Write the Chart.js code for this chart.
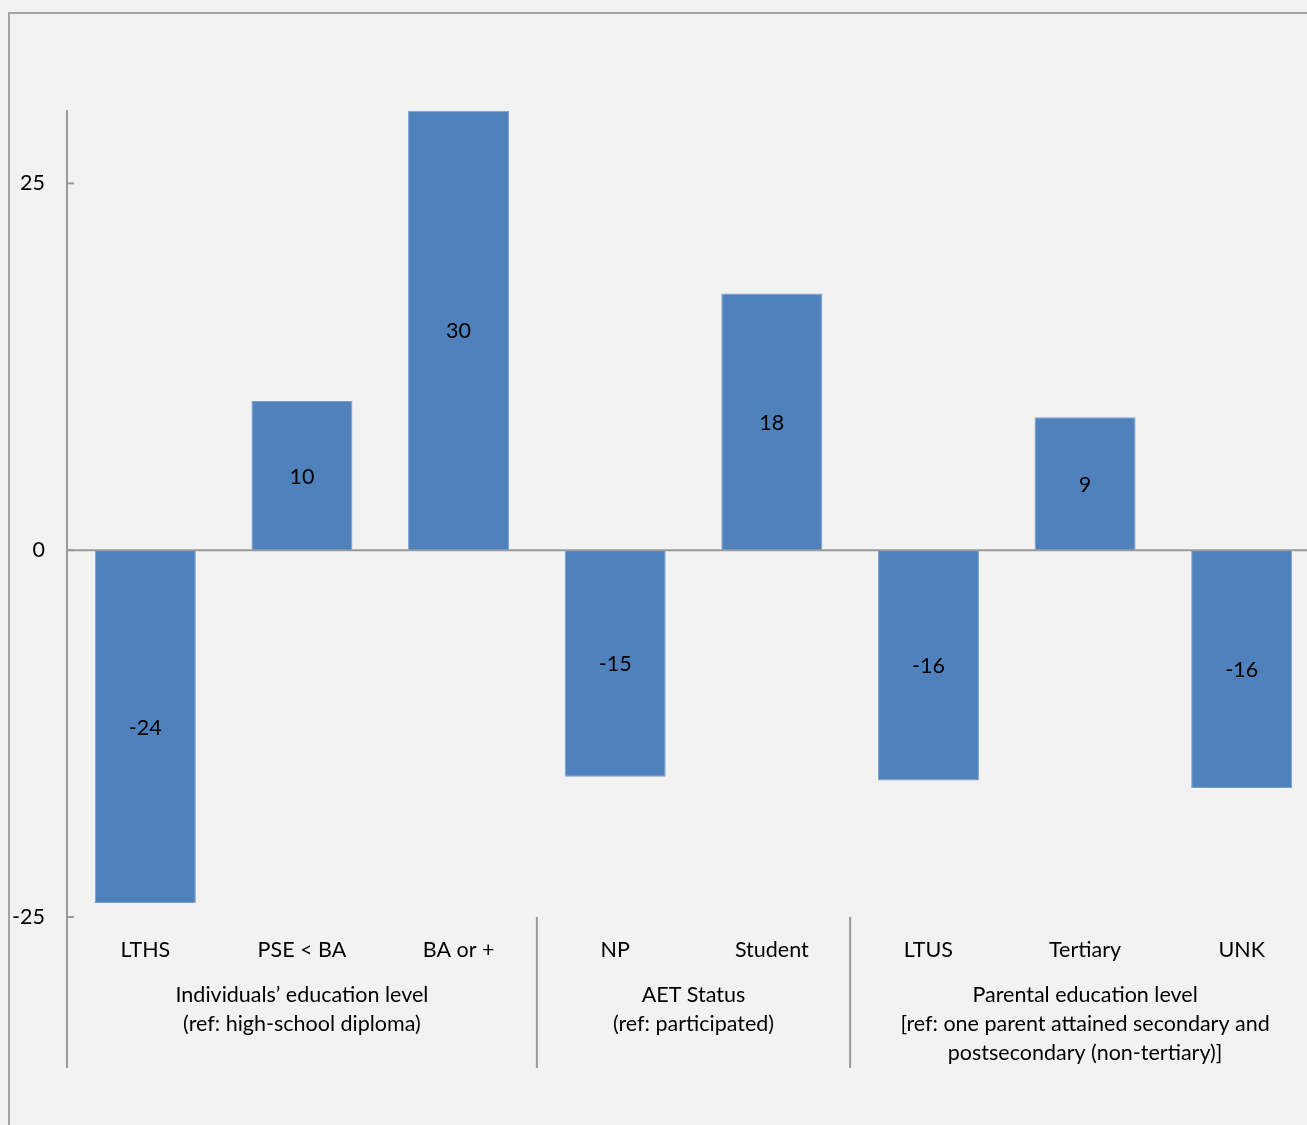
<!DOCTYPE html>
<html>
<head>
<meta charset="utf-8">
<script src="https://cdn.jsdelivr.net/npm/chart.js@4.4.1/dist/chart.umd.min.js"></script>
<style>
  html, body { margin: 0; padding: 0; background: #f2f2f2; overflow: hidden; }
  #frame { position: absolute; left: 8px; top: 12px; width: 1400px; height: 1200px; border: 2px solid #a3a3a3; }
  #wrap { position: absolute; left: 0; top: 0; width: 1340px; height: 1125px; }
</style>
</head>
<body>
<div id="frame"></div>
<div id="wrap"><canvas id="myChart"></canvas></div>
<script>
// categories and values
var categories = ['LTHS', 'PSE < BA', 'BA or +', 'NP', 'Student', 'LTUS', 'Tertiary', 'UNK'];
var values = [-24.05, 10.17, 29.95, -15.44, 17.5, -15.7, 9.06, -16.2];
var yTicks = [-25, 0, 25];
// groups: first and last category index, label lines
var groupStart = [0, 3, 5];
var groupEnd = [2, 4, 7];
var groupLabels = [
    ['Individuals\u2019 education level', '(ref: high-school diploma)'],
    ['AET Status', '(ref: participated)'],
    ['Parental education level', '[ref: one parent attained secondary and', 'postsecondary (non-tertiary)]']
];

var FONT = 'Lato, "Open Sans", sans-serif';
var FSIZE = 21.5;
var lineCol = '#9a9a9a';

var extras = {
    id: 'extras',
    afterDatasetsDraw: function (chart) {
        var ctx = chart.ctx;
        var x = chart.scales.x, y = chart.scales.y;
        var area = chart.chartArea;
        ctx.save();
        ctx.strokeStyle = lineCol;
        ctx.lineWidth = 2;
        // zero line
        var y0 = y.getPixelForValue(0);
        ctx.beginPath();
        ctx.moveTo(area.left, y0);
        ctx.lineTo(area.right, y0);
        ctx.stroke();
        // y axis line, continuing down past the categories
        var bottom = area.bottom + 151;
        ctx.beginPath();
        ctx.moveTo(area.left, area.top);
        ctx.lineTo(area.left, bottom);
        ctx.stroke();
        // inner tick marks
        yTicks.forEach(function (v) {
            var py = y.getPixelForValue(v);
            ctx.beginPath();
            ctx.moveTo(area.left, py);
            ctx.lineTo(area.left + 7, py);
            ctx.stroke();
        });
        // group separators
        var step = x.getPixelForValue(1) - x.getPixelForValue(0);
        for (var g = 1; g < groupStart.length; g++) {
            var sx = x.getPixelForValue(groupStart[g]) - step / 2;
            ctx.beginPath();
            ctx.moveTo(sx, area.bottom);
            ctx.lineTo(sx, bottom);
            ctx.stroke();
        }
        // data labels
        ctx.fillStyle = '#000';
        ctx.font = FSIZE + 'px ' + FONT;
        ctx.textAlign = 'center';
        ctx.textBaseline = 'middle';
        chart.getDatasetMeta(0).data.forEach(function (bar, i) {
            ctx.fillText(String(Math.round(values[i])), bar.x, (bar.y + bar.base) / 2 + 1);
        });
        // group labels
        for (var k = 0; k < groupLabels.length; k++) {
            var cx = (x.getPixelForValue(groupStart[k]) + x.getPixelForValue(groupEnd[k])) / 2;
            groupLabels[k].forEach(function (line, j) {
                ctx.fillText(line, cx, area.bottom + 78 + j * 29);
            });
        }
        ctx.restore();
    }
};

new Chart(document.getElementById('myChart'), {
    type: 'bar',
    data: {
        labels: categories,
        datasets: [{
            data: values,
            backgroundColor: '#4f81bd',
            borderColor: '#7a9fcf',
            borderWidth: 1,
            categoryPercentage: 1,
            barPercentage: 0.645
        }]
    },
    options: {
        responsive: true,
        maintainAspectRatio: false,
        animation: false,
        layout: { padding: { top: 110, right: 20, left: 0, bottom: 0 } },
        plugins: { legend: { display: false }, tooltip: { enabled: false } },
        scales: {
            x: {
                grid: { display: false, drawTicks: false },
                border: { display: false },
                ticks: { color: '#000', font: { size: FSIZE, family: FONT }, padding: 20, maxRotation: 0, autoSkip: false },
                afterFit: function (s) { s.height = 208; }
            },
            y: {
                min: -25,
                max: 30,
                grid: { display: false, drawTicks: false },
                border: { display: false },
                ticks: { color: '#000', font: { size: FSIZE, family: FONT }, padding: 22 },
                afterBuildTicks: function (s) { s.ticks = yTicks.map(function (v) { return { value: v }; }); },
                afterFit: function (s) { s.width = 67; }
            }
        }
    },
    plugins: [extras]
});
</script>
</body>
</html>
